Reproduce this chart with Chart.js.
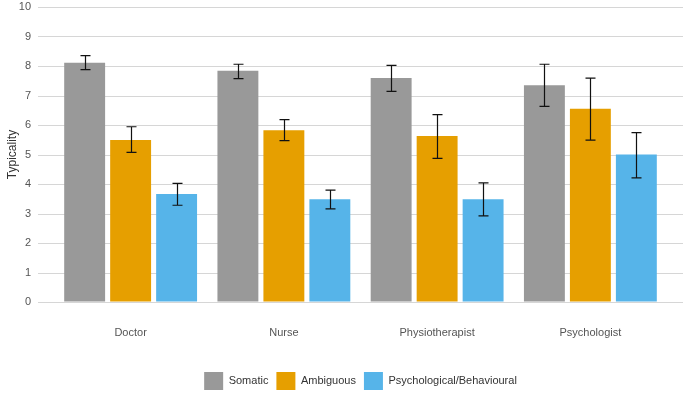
<!DOCTYPE html>
<html>
<head>
<meta charset="utf-8">
<script src="https://cdn.jsdelivr.net/npm/chart.js@4/dist/chart.umd.min.js"></script>
<style>
  html, body { margin: 0; padding: 0; background: #fff; }
  #wrap { width: 686px; height: 395px; }
</style>
</head>
<body>
<div id="wrap"><canvas id="typ-chart" width="686" height="395"></canvas></div>
<script>
// categories + series
const professions = ['Doctor', 'Nurse', 'Physiotherapist', 'Psychologist'];
const yTicks = [0, 1, 2, 3, 4, 5, 6, 7, 8, 9, 10];

const somatic = [8.11, 7.84, 7.59, 7.35];
const somaticLow = [7.88, 7.57, 7.14, 6.63];
const somaticHigh = [8.35, 8.06, 8.02, 8.06];

const ambiguous = [5.49, 5.82, 5.63, 6.55];
const ambiguousLow = [5.07, 5.47, 4.87, 5.49];
const ambiguousHigh = [5.94, 6.18, 6.35, 7.59];

const psych = [3.66, 3.48, 3.48, 5.0];
const psychLow = [3.28, 3.16, 2.92, 4.21];
const psychHigh = [4.02, 3.79, 4.04, 5.74];

const font = "'Liberation Sans', Arial, sans-serif";

// grid lines run a bit past the bar area on both sides
const gridPlugin = {
  id: 'wideGrid',
  beforeDatasetsDraw(chart) {
    const ctx = chart.ctx, area = chart.chartArea, y = chart.scales.y;
    ctx.save();
    ctx.strokeStyle = '#d6d6d6';
    ctx.lineWidth = 1.2;
    yTicks.forEach(v => {
      const py = Math.round(y.getPixelForValue(v)) + 0.5;
      ctx.beginPath();
      ctx.moveTo(area.left - 16, py);
      ctx.lineTo(area.right + 16, py);
      ctx.stroke();
    });
    ctx.restore();
  }
};

// error bars from the low/high arrays
const errPlugin = {
  id: 'errBars',
  afterDatasetsDraw(chart) {
    const ctx = chart.ctx, y = chart.scales.y;
    ctx.save();
    ctx.strokeStyle = '#111';
    ctx.lineWidth = 1.2;
    chart.data.datasets.forEach((ds, i) => {
      const meta = chart.getDatasetMeta(i);
      meta.data.forEach((bar, j) => {
        const x = Math.round(bar.x) + 0.5;
        const top = y.getPixelForValue(ds.errHigh[j]);
        const bot = y.getPixelForValue(ds.errLow[j]);
        ctx.beginPath();
        ctx.moveTo(x, top); ctx.lineTo(x, bot);
        ctx.moveTo(x - 5, top); ctx.lineTo(x + 5, top);
        ctx.moveTo(x - 5, bot); ctx.lineTo(x + 5, bot);
        ctx.stroke();
      });
    });
    ctx.restore();
  }
};

new Chart(document.getElementById('typ-chart'), {
  type: 'bar',
  data: {
    labels: professions,
    datasets: [
      { label: 'Somatic', data: somatic, errLow: somaticLow, errHigh: somaticHigh, backgroundColor: '#999999' },
      { label: 'Ambiguous', data: ambiguous, errLow: ambiguousLow, errHigh: ambiguousHigh, backgroundColor: '#E69F00' },
      { label: 'Psychological/Behavioural', data: psych, errLow: psychLow, errHigh: psychHigh, backgroundColor: '#56B4E9' },
    ],
  },
  options: {
    responsive: false,
    animation: false,
    categoryPercentage: 0.9,
    barPercentage: 0.89,
    layout: { padding: { top: 7, right: 19, left: 0, bottom: -5 } },
    plugins: {
      legend: {
        position: 'bottom',
        fullSize: false, // centre it under the plot area like the original
        labels: {
          boxWidth: 19, boxHeight: 18, padding: 8,
          color: '#333', font: { family: font, size: 11 },
        },
      },
      tooltip: { enabled: false },
    },
    scales: {
      x: {
        grid: { display: false, drawTicks: false },
        border: { display: false },
        ticks: { color: '#555', font: { family: font, size: 11 }, padding: 24 },
        afterFit: s => { s.height = 62; },
      },
      y: {
        min: 0, max: 10,
        afterBuildTicks: s => { s.ticks = yTicks.map(v => ({ value: v })); },
        // invisible tick marks make the gap between labels and plot
        // (tick padding would also push the plot top down)
        grid: { display: true, drawOnChartArea: false, drawTicks: true, tickLength: 23, tickColor: 'rgba(0,0,0,0)' },
        border: { display: false },
        ticks: { color: '#555', font: { family: font, size: 11 }, padding: 0 },
        title: { display: true, text: 'Typicality', color: '#333', font: { family: font, size: 12 }, padding: { top: 5, bottom: 0 } },
        afterFit: s => { s.width = 54; },
      },
    },
  },
  plugins: [gridPlugin, errPlugin],
});
</script>
</body>
</html>
